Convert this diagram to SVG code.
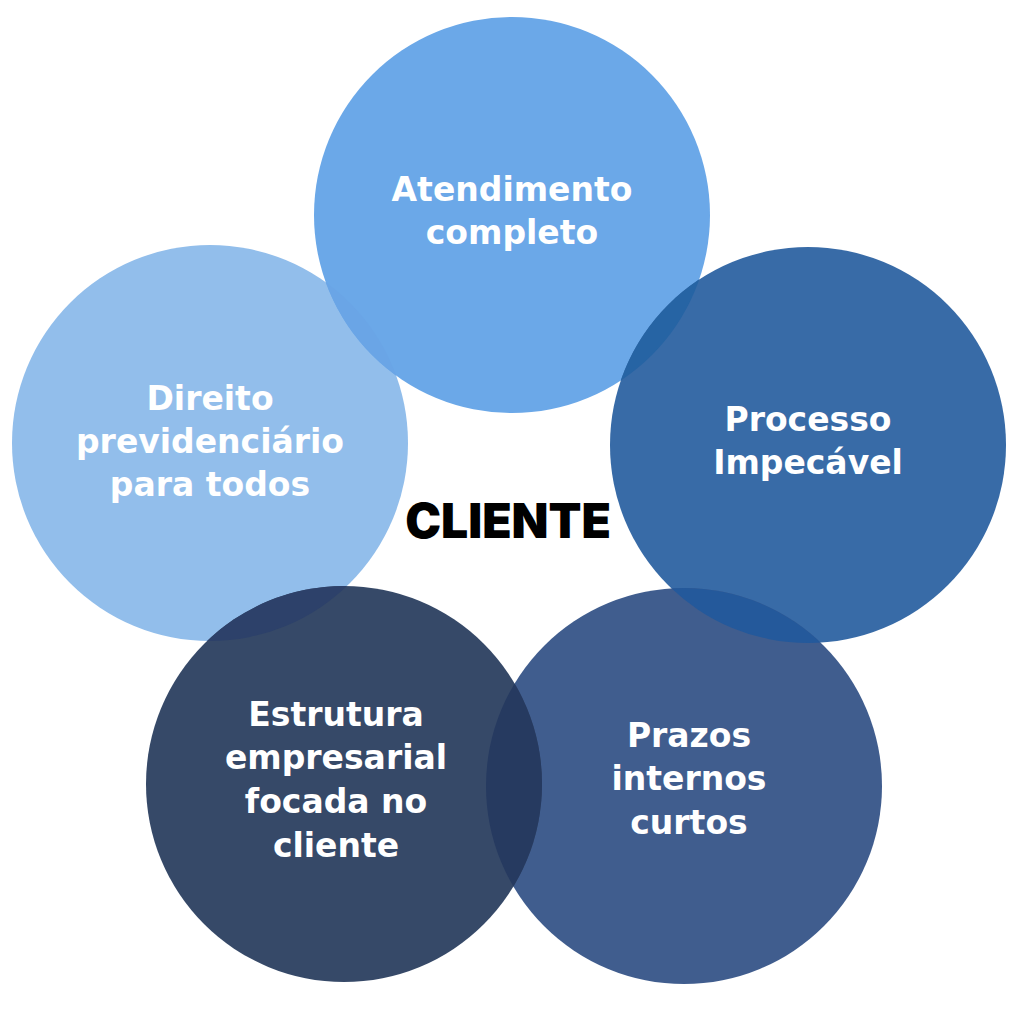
<svg xmlns="http://www.w3.org/2000/svg" width="1024" height="1024" viewBox="0 0 1024 1024">
<style>
.lbl{font-family:"DejaVu Sans","Liberation Sans",sans-serif;font-weight:700;font-size:33px;fill:#ffffff;text-anchor:middle}
.center{font-family:Inter,"Liberation Sans",sans-serif;font-weight:900;font-size:48px;fill:#000000;text-anchor:middle}
</style>
<defs>
<clipPath id="cTop"><circle cx="512" cy="215" r="198"/></clipPath>
<clipPath id="cRight"><circle cx="808" cy="445" r="198"/></clipPath>
<clipPath id="cBR"><circle cx="684" cy="786" r="198"/></clipPath>
<clipPath id="cBL"><circle cx="344" cy="784" r="198"/></clipPath>
<clipPath id="cLeft"><circle cx="210" cy="443" r="198"/></clipPath>
</defs>
<rect width="1024" height="1024" fill="#ffffff"/>
<g id="node-left"><circle cx="210" cy="443" r="198" fill="#92BEEB"/></g>
<g id="node-top"><circle cx="512" cy="215" r="198" fill="#6BA8E8"/></g>
<g id="node-right"><circle cx="808" cy="445" r="198" fill="#386BA7"/></g>
<g id="node-br"><circle cx="684" cy="786" r="198" fill="#405D8E"/></g>
<g id="node-bl"><circle cx="344" cy="784" r="198" fill="#364968"/></g>
<g id="overlaps">
<circle cx="210" cy="443" r="198" fill="#6AA5E6" clip-path="url(#cTop)"/>
<circle cx="808" cy="445" r="198" fill="#2664A4" clip-path="url(#cTop)"/>
<circle cx="808" cy="445" r="198" fill="#24599B" clip-path="url(#cBR)"/>
<circle cx="344" cy="784" r="198" fill="#263A60" clip-path="url(#cBR)"/>
<circle cx="344" cy="784" r="198" fill="#2D416A" clip-path="url(#cLeft)"/>
</g>
<g id="labels">
<text class="lbl" x="512" y="201">Atendimento</text>
<text class="lbl" x="512" y="244">completo</text>
<text class="lbl" x="808" y="431">Processo</text>
<text class="lbl" x="808" y="474">Impecável</text>
<text class="lbl" x="210" y="410">Direito</text>
<text class="lbl" x="210" y="453">previdenciário</text>
<text class="lbl" x="210" y="496">para todos</text>
<text class="lbl" x="336" y="726">Estrutura</text>
<text class="lbl" x="336" y="769">empresarial</text>
<text class="lbl" x="336" y="813">focada no</text>
<text class="lbl" x="336" y="857">cliente</text>
<text class="lbl" x="689" y="747">Prazos</text>
<text class="lbl" x="689" y="790">internos</text>
<text class="lbl" x="689" y="834">curtos</text>
</g>
<g id="node-center"><text class="center" x="508" y="538">CLIENTE</text></g>
</svg>
